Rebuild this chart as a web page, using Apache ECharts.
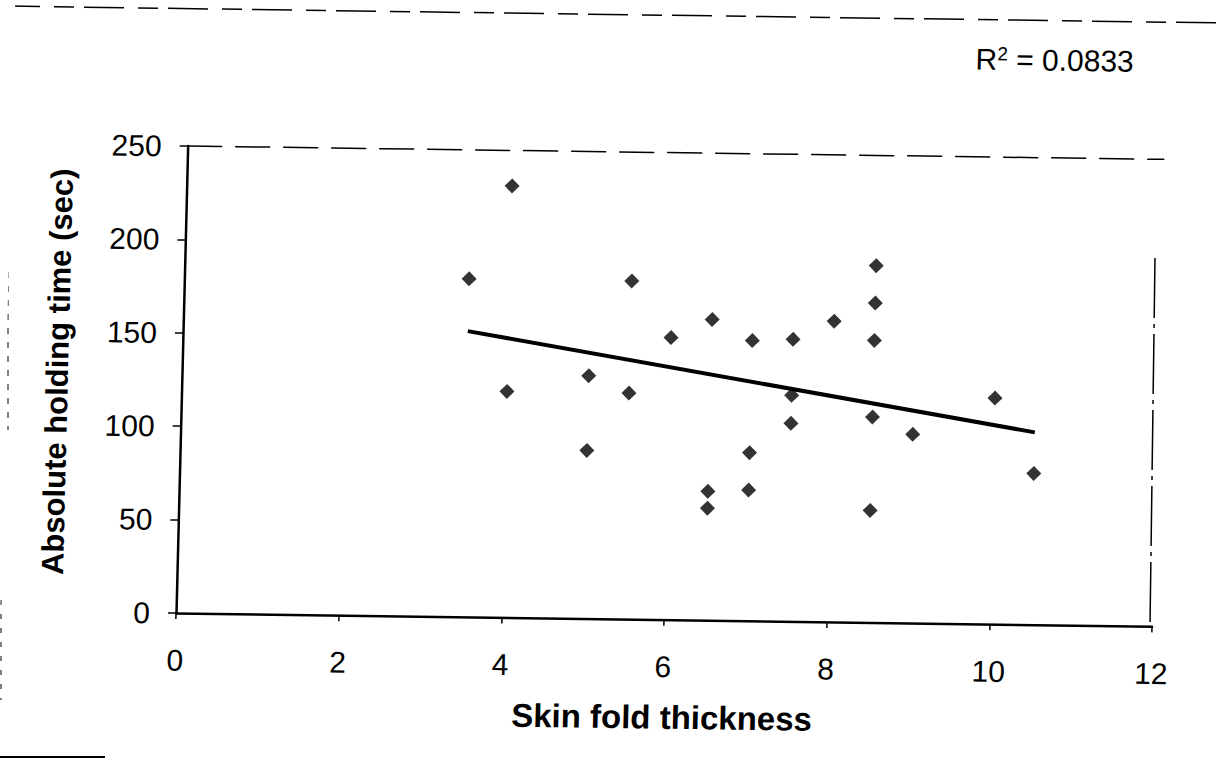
<!DOCTYPE html>
<html>
<head>
<meta charset="utf-8">
<script src="https://cdn.jsdelivr.net/npm/echarts@6/dist/echarts.min.js"></script>
<style>
html,body{margin:0;padding:0;background:#fff;overflow:hidden;}
#chart{width:1226px;height:765px;transform-origin:176px 613px;transform:matrix(1,0.0137,-0.025,1,0,0);}
</style>
</head>
<body>
<div id="chart"></div>
<script>
// Skin fold thickness (x) and absolute holding time in seconds (y)
var skinFold = [3.5, 4, 4, 5, 5, 5.5, 5.5, 6, 6.5, 6.5, 6.5, 7, 7, 7, 7.5, 7.5, 7.5, 8, 8.5, 8.5, 8.5, 8.5, 8.5, 9, 10, 10.5];
var holdTime = [181, 231, 121, 130, 90, 181, 121, 151, 161, 69, 60, 150, 90, 70, 151, 121, 106, 161, 191, 171, 151, 110, 60, 101, 121, 81];
var xTicks = [0, 2, 4, 6, 8, 10, 12];
var yTicks = [0, 50, 100, 150, 200, 250];
var rSquaredText = '0.0833';
var xTitle = 'Skin fold thickness';
var yTitle = 'Absolute holding time (sec)';

var points = skinFold.map(function (x, i) { return [x, holdTime[i]]; });

// least-squares trend line over the data range
var n = skinFold.length, sx = 0, sy = 0, sxx = 0, sxy = 0;
for (var i = 0; i < n; i++) { sx += skinFold[i]; sy += holdTime[i]; sxx += skinFold[i] * skinFold[i]; sxy += skinFold[i] * holdTime[i]; }
var slope = (n * sxy - sx * sy) / (n * sxx - sx * sx);
var intercept = (sy - slope * sx) / n;
var xMin = Math.min.apply(null, skinFold), xMax = Math.max.apply(null, skinFold);
var trend = [[xMin, intercept + slope * xMin], [xMax, intercept + slope * xMax]];

// the scanned page is slightly skewed; decorations are placed in page pixels
var OX = 176, OY = 613, SB = 0.0137, SC = -0.025;
function inv(xt, yt) {
  var det = 1 - SB * SC, ax = xt - OX, ay = yt - OY;
  return [OX + (ax - SC * ay) / det, OY + (ay - SB * ax) / det];
}
function seg(x1, y1, x2, y2, style) {
  var a = inv(x1, y1), b = inv(x2, y2);
  return { type: 'line', silent: true, shape: { x1: a[0], y1: a[1], x2: b[0], y2: b[1] }, style: style };
}
var rPos = inv(976, 44);

var font = '"Liberation Sans", Arial, sans-serif';
var chart = echarts.init(document.getElementById('chart'), null, { renderer: 'svg' });
chart.setOption({
  animation: false,
  backgroundColor: '#fff',
  grid: { left: 176, right: 74, top: 146, bottom: 152 },
  xAxis: [{
    type: 'value', min: xTicks[0], max: xTicks[xTicks.length - 1], interval: 2,
    name: xTitle, nameLocation: 'middle', nameGap: 81,
    nameTextStyle: { fontFamily: font, fontSize: 33, fontWeight: 'bold', color: '#000' },
    axisLine: { show: true, onZero: false, lineStyle: { color: '#000', width: 2.5 } },
    axisTick: { show: true, inside: false, length: 6, lineStyle: { color: '#000', width: 1.5 } },
    axisLabel: { fontFamily: font, fontSize: 30, color: '#000', margin: 32 },
    splitLine: { show: false }
  }, {
    type: 'value', position: 'top', min: xTicks[0], max: xTicks[xTicks.length - 1], interval: 2,
    axisLine: { show: true, onZero: false, lineStyle: { color: '#000', width: 1.5, type: [34, 14] } },
    axisTick: { show: false }, axisLabel: { show: false }, splitLine: { show: false }
  }],
  yAxis: {
    type: 'value', min: yTicks[0], max: yTicks[yTicks.length - 1], interval: 50,
    name: yTitle, nameLocation: 'middle', nameGap: 109, nameRotate: 90,
    nameTextStyle: { fontFamily: font, fontSize: 31, fontWeight: 'bold', color: '#000', padding: [0, 0, 0, 12] },
    axisLine: { show: true, onZero: false, lineStyle: { color: '#000', width: 2.5 } },
    axisTick: { show: true, inside: false, length: 8, lineStyle: { color: '#000', width: 1.5 } },
    axisLabel: { fontFamily: font, fontSize: 30, color: '#000', margin: 26 },
    splitLine: { show: false }
  },
  graphic: [
    { type: 'text', silent: true, x: rPos[0], y: rPos[1],
      style: { rich: { a: { fontFamily: font, fontSize: 30, lineHeight: 30, fill: '#000' },
                       s: { fontFamily: font, fontSize: 19, lineHeight: 19, fill: '#000', verticalAlign: 'top' } },
               text: '{a|R}{s|2}{a| = ' + rSquaredText + '}', fill: '#000' } },
    seg(1155, 258, 1150, 626, { stroke: '#000', lineWidth: 1.5, lineDash: [60, 6, 4, 6] }),
    seg(0, 6, 1226, 23, { stroke: '#000', lineWidth: 1.5, lineDash: [40, 14, 20, 10] }),
    seg(8, 272, 8, 430, { stroke: '#000', lineWidth: 1, lineDash: [6, 8] }),
    seg(1, 600, 1, 700, { stroke: '#000', lineWidth: 1, lineDash: [5, 9] }),
    seg(0, 757, 105, 757, { stroke: '#000', lineWidth: 2 })
  ],
  series: [{
    type: 'scatter', data: points, symbol: 'diamond', symbolSize: 15,
    itemStyle: { color: '#000' }, z: 3
  }, {
    type: 'line', data: trend, showSymbol: false, symbol: 'none',
    lineStyle: { color: '#000', width: 4 }, z: 2
  }]
});
</script>
</body>
</html>
